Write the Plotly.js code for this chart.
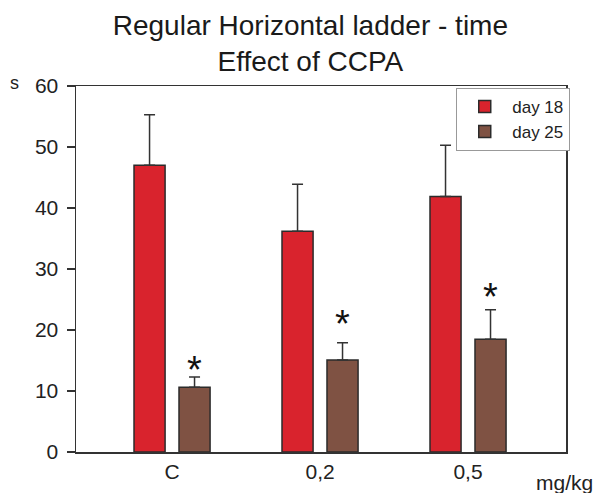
<!DOCTYPE html>
<html>
<head>
<meta charset="utf-8">
<script src="https://cdn.plot.ly/plotly-3.0.1.min.js"></script>
<style>html,body{margin:0;padding:0;background:#fff;}#chart{width:605px;height:493px;}</style>
</head>
<body>
<div id="chart"></div>
<script>
const categories = ["C", "0,2", "0,5"];
const day18 = [47.0, 36.2, 41.9];
const day18Err = [8.3, 7.7, 8.4];
const day25 = [10.6, 15.1, 18.5];
const day25Err = [1.7, 2.8, 4.8];
const starY = [14.6, 22.2, 26.6];

const xIdx = categories.map((c, i) => i);
const outline = {color: '#2b2b2b', width: 1.5};
const FONT = 'Liberation Sans, Arial, sans-serif';

const traces = [
  {
    type: 'bar', name: 'day 18', x: xIdx, y: day18,
    width: 0.21, offset: -0.257,
    marker: {color: '#d9232d', line: outline},
    error_y: {type: 'data', array: day18Err, arrayminus: day18.map(() => 0), symmetric: false,
              color: '#333', thickness: 1.5, width: 5.5}
  },
  {
    type: 'bar', name: 'day 25', x: xIdx, y: day25,
    width: 0.21, offset: 0.047,
    marker: {color: '#7f5243', line: outline},
    error_y: {type: 'data', array: day25Err, arrayminus: day25.map(() => 0), symmetric: false,
              color: '#333', thickness: 1.5, width: 5.5}
  }
];

const annotations = starY.map((v, i) => ({
  x: i + 0.152, y: v, xref: 'x', yref: 'y', text: '*', showarrow: false,
  font: {family: FONT, size: 38, color: '#111'},
  yanchor: 'middle', yshift: -7
}));
annotations.push({
  x: 1, xref: 'paper', xanchor: 'left', xshift: -32, y: 0, yref: 'paper', yanchor: 'top', yshift: -17,
  text: 'mg/kg', showarrow: false, font: {family: FONT, size: 21, color: '#222'}
});
annotations.push({
  x: 0, xref: 'paper', xanchor: 'right', xshift: -55, y: 1, yref: 'paper', yanchor: 'middle', yshift: 3,
  text: 's', showarrow: false, font: {family: FONT, size: 18, color: '#222'}
});

const layout = {
  width: 605, height: 493,
  margin: {l: 76, r: 39, t: 86, b: 41},
  paper_bgcolor: '#fff', plot_bgcolor: '#fff',
  font: {family: FONT, color: '#222'},
  title: {
    text: 'Regular Horizontal ladder - time<br>Effect of CCPA',
    font: {size: 28, color: '#1a1a1a'},
    x: 0.513, xref: 'container', xanchor: 'center',
    y: 0.93, yref: 'container', yanchor: 'top'
  },
  barmode: 'overlay',
  showlegend: true,
  legend: {
    x: 0.776, y: 0.995, xanchor: 'left', yanchor: 'top',
    bgcolor: '#fff', bordercolor: '#999', borderwidth: 1,
    font: {size: 17, color: '#222'}, tracegroupgap: 2, itemwidth: 45
  },
  xaxis: {
    range: [-0.649, 2.662], tickvals: xIdx, ticktext: categories,
    showline: true, linecolor: '#333', linewidth: 1.5, mirror: true,
    ticks: '', showgrid: false, zeroline: false,
    tickfont: {size: 21, color: '#222'}
  },
  yaxis: {
    range: [0, 60], dtick: 10, ticks: 'outside', ticklen: 8, tickcolor: '#333', tickwidth: 1.2,
    ticklabelstandoff: 4,
    showline: true, linecolor: '#333', linewidth: 1.5, mirror: true,
    showgrid: false, zeroline: false,
    tickfont: {size: 21, color: '#222'}
  },
  annotations: annotations
};

Plotly.newPlot('chart', traces, layout, {displayModeBar: false, staticPlot: true});
</script>
</body>
</html>
